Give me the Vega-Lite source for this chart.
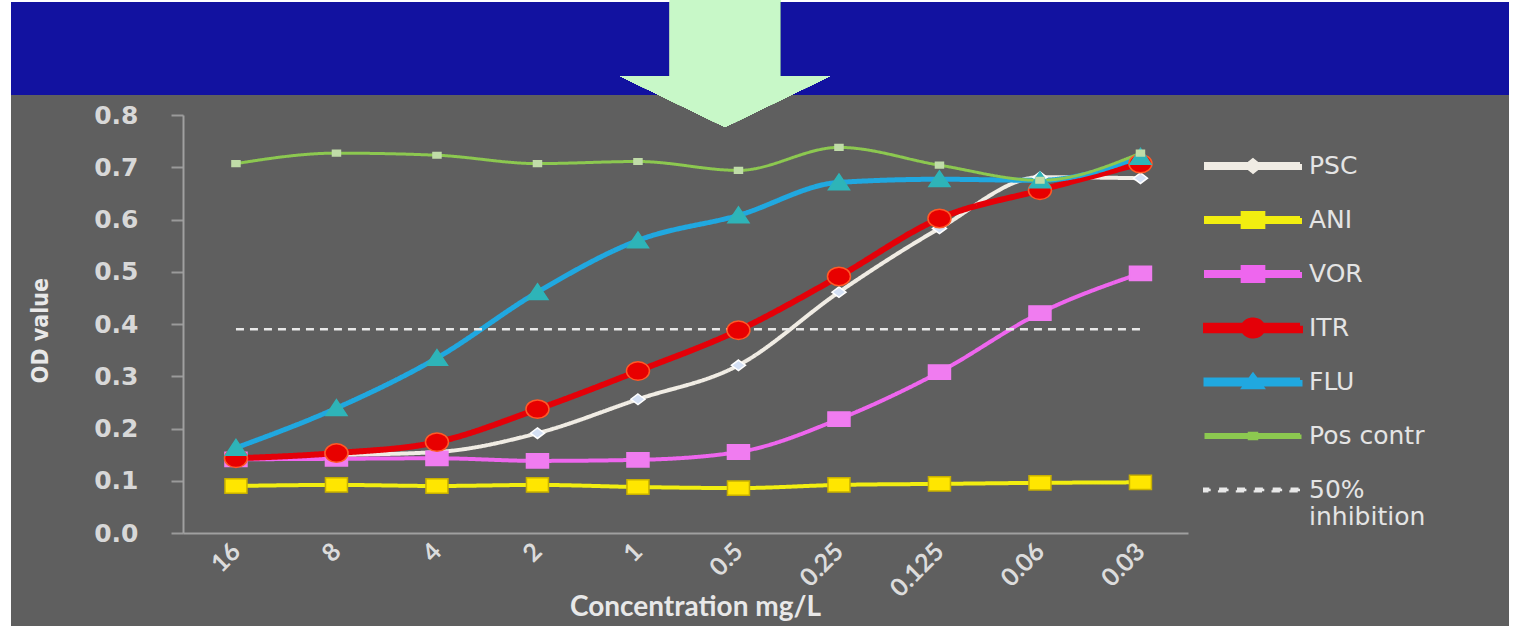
{
  "$schema": "https://vega.github.io/schema/vega-lite/v6.json",
  "width": 1005,
  "height": 418,
  "autosize": {"type": "none"},
  "padding": {"left": 183, "top": 115, "right": 336, "bottom": 93},
  "background": "white",
  "config": {"view": {"stroke": null}},
  "data": {
    "values": [
      {"conc": "16", "series": "PSC", "od": 0.143}, {"conc": "8", "series": "PSC", "od": 0.149}, {"conc": "4", "series": "PSC", "od": 0.155}, {"conc": "2", "series": "PSC", "od": 0.191}, {"conc": "1", "series": "PSC", "od": 0.256}, {"conc": "0.5", "series": "PSC", "od": 0.321}, {"conc": "0.25", "series": "PSC", "od": 0.461}, {"conc": "0.125", "series": "PSC", "od": 0.583}, {"conc": "0.06", "series": "PSC", "od": 0.681}, {"conc": "0.03", "series": "PSC", "od": 0.679},
      {"conc": "16", "series": "ANI", "od": 0.090}, {"conc": "8", "series": "ANI", "od": 0.092}, {"conc": "4", "series": "ANI", "od": 0.090}, {"conc": "2", "series": "ANI", "od": 0.092}, {"conc": "1", "series": "ANI", "od": 0.088}, {"conc": "0.5", "series": "ANI", "od": 0.086}, {"conc": "0.25", "series": "ANI", "od": 0.092}, {"conc": "0.125", "series": "ANI", "od": 0.094}, {"conc": "0.06", "series": "ANI", "od": 0.096}, {"conc": "0.03", "series": "ANI", "od": 0.097},
      {"conc": "16", "series": "VOR", "od": 0.141}, {"conc": "8", "series": "VOR", "od": 0.142}, {"conc": "4", "series": "VOR", "od": 0.143}, {"conc": "2", "series": "VOR", "od": 0.138}, {"conc": "1", "series": "VOR", "od": 0.140}, {"conc": "0.5", "series": "VOR", "od": 0.155}, {"conc": "0.25", "series": "VOR", "od": 0.218}, {"conc": "0.125", "series": "VOR", "od": 0.308}, {"conc": "0.06", "series": "VOR", "od": 0.421}, {"conc": "0.03", "series": "VOR", "od": 0.497},
      {"conc": "16", "series": "ITR", "od": 0.143}, {"conc": "8", "series": "ITR", "od": 0.153}, {"conc": "4", "series": "ITR", "od": 0.174}, {"conc": "2", "series": "ITR", "od": 0.237}, {"conc": "1", "series": "ITR", "od": 0.310}, {"conc": "0.5", "series": "ITR", "od": 0.388}, {"conc": "0.25", "series": "ITR", "od": 0.491}, {"conc": "0.125", "series": "ITR", "od": 0.602}, {"conc": "0.06", "series": "ITR", "od": 0.656}, {"conc": "0.03", "series": "ITR", "od": 0.707},
      {"conc": "16", "series": "FLU", "od": 0.163}, {"conc": "8", "series": "FLU", "od": 0.239}, {"conc": "4", "series": "FLU", "od": 0.335}, {"conc": "2", "series": "FLU", "od": 0.461}, {"conc": "1", "series": "FLU", "od": 0.560}, {"conc": "0.5", "series": "FLU", "od": 0.608}, {"conc": "0.25", "series": "FLU", "od": 0.671}, {"conc": "0.125", "series": "FLU", "od": 0.677}, {"conc": "0.06", "series": "FLU", "od": 0.675}, {"conc": "0.03", "series": "FLU", "od": 0.720},
      {"conc": "16", "series": "Pos contr", "od": 0.707}, {"conc": "8", "series": "Pos contr", "od": 0.727}, {"conc": "4", "series": "Pos contr", "od": 0.723}, {"conc": "2", "series": "Pos contr", "od": 0.707}, {"conc": "1", "series": "Pos contr", "od": 0.711}, {"conc": "0.5", "series": "Pos contr", "od": 0.694}, {"conc": "0.25", "series": "Pos contr", "od": 0.738}, {"conc": "0.125", "series": "Pos contr", "od": 0.704}, {"conc": "0.06", "series": "Pos contr", "od": 0.675}, {"conc": "0.03", "series": "Pos contr", "od": 0.727},
      {"conc": "16", "series": "50% inhibition", "od": 0.39}, {"conc": "8", "series": "50% inhibition", "od": 0.39}, {"conc": "4", "series": "50% inhibition", "od": 0.39}, {"conc": "2", "series": "50% inhibition", "od": 0.39}, {"conc": "1", "series": "50% inhibition", "od": 0.39}, {"conc": "0.5", "series": "50% inhibition", "od": 0.39}, {"conc": "0.25", "series": "50% inhibition", "od": 0.39}, {"conc": "0.125", "series": "50% inhibition", "od": 0.39}, {"conc": "0.06", "series": "50% inhibition", "od": 0.39}, {"conc": "0.03", "series": "50% inhibition", "od": 0.39}
    ]
  },
  "resolve": {"scale": {"x": "independent"}},
  "layer": [
    {
      "mark": {"type": "rect", "color": "#5f5f5f"},
      "encoding": {
        "x": {"datum": -0.1711, "type": "quantitative", "scale": {"domain": [0, 1]}, "axis": null},
        "x2": {"datum": 1.3194},
        "y": {"datum": -0.178, "type": "quantitative", "scale": {"domain": [0, 0.8], "nice": false}},
        "y2": {"datum": 0.8383}
      }
    },
    {
      "mark": {"type": "rect", "color": "#1212a0"},
      "encoding": {
        "x": {"datum": -0.1711, "type": "quantitative", "scale": {"domain": [0, 1]}, "axis": null},
        "x2": {"datum": 1.3194},
        "y": {"datum": 0.8383, "type": "quantitative", "scale": {"domain": [0, 0.8], "nice": false}},
        "y2": {"datum": 1.0163}
      }
    },
    {
      "mark": {"type": "point", "filled": true, "opacity": 1, "fill": "#c8f8c8", "strokeWidth": 0, "size": 44100,
               "shape": "M-0.524,-0.605L0.524,-0.605L0.524,0.119L1,0.119L0,0.605L-1,0.119L-0.524,0.119Z"},
      "encoding": {
        "x": {"datum": 0.5393, "type": "quantitative", "scale": {"domain": [0, 1]}, "axis": null},
        "y": {"datum": 0.8986, "type": "quantitative", "scale": {"domain": [0, 0.8], "nice": false}}
      }
    },
    {
      "mark": {"type": "line", "interpolate": "monotone"},
      "encoding": {
        "x": {
          "field": "conc", "type": "ordinal",
          "scale": {"type": "point", "domain": ["16", "8", "4", "2", "1", "0.5", "0.25", "0.125", "0.06", "0.03"], "padding": 0.5, "align": 0.527},
          "axis": {
            "title": "Concentration mg/L", "labelAngle": -45, "labelAlign": "right", "labelBaseline": "middle",
            "labelFont": "Lato", "labelFontWeight": "bold", "labelFontSize": 25, "labelColor": "#dcdcdc", "labelPadding": 14,
            "ticks": false, "domainColor": "#a0a0a0", "domainWidth": 2, "grid": false,
            "titleFont": "Lato", "titleFontWeight": "bold", "titleFontSize": 28, "titleColor": "#e8e8e8",
            "titleX": 512, "titleY": 74, "titleBaseline": "middle", "titleAlign": "center", "zindex": 1
          }
        },
        "y": {
          "field": "od", "type": "quantitative", "scale": {"domain": [0, 0.8], "nice": false},
          "axis": {
            "title": "OD value", "values": [0, 0.1, 0.2, 0.3, 0.4, 0.5, 0.6, 0.7, 0.8], "format": ".1f",
            "labelFont": "DejaVu Sans", "labelFontWeight": "bold", "labelFontSize": 25, "labelColor": "#d8d8d8", "labelPadding": 33,
            "tickSize": 12, "tickColor": "#9a9a9a", "tickWidth": 2, "domainColor": "#a0a0a0", "domainWidth": 2, "grid": false,
            "titleFont": "DejaVu Sans Condensed, DejaVu Sans, sans-serif", "titleFontWeight": "bold", "titleFontSize": 23, "titleColor": "#e8e8e8",
            "titleAngle": 270, "titleX": -143, "titleY": 215, "titleBaseline": "middle", "titleAlign": "center", "zindex": 1
          }
        },
        "color": {
          "field": "series", "type": "nominal",
          "scale": {"domain": ["PSC", "ANI", "VOR", "ITR", "FLU", "Pos contr", "50% inhibition"],
                    "range": ["#f0ece4", "#f2ee10", "#ee66ee", "#e40008", "#20a8e0", "#8cc850", "#e8e8e8"]},
          "legend": {
            "title": null, "orient": "none", "legendX": 1020, "legendY": 31, "zindex": 1,
            "symbolSize": 8836, "symbolStrokeWidth": 0, "clipHeight": 40, "rowPadding": 14, "labelOffset": 6,
            "labelFont": "DejaVu Sans", "labelFontSize": 25, "labelColor": "#e4e4e4", "labelLimit": 400,
            "labelExpr": "datum.label == '50% inhibition' ? ['50%', 'inhibition'] : datum.label",
            "encode": {
              "symbols": {
                "update": {
                  "shape": {"signal": "datum.value == 'PSC' ? 'M-1,-0.04H1V0.04H-1Z M0,-0.12L0.15,0L0,0.12L-0.15,0Z' : (datum.value == 'ANI' || datum.value == 'VOR') ? 'M-1,-0.04H1V0.04H-1Z M-0.22,-0.15H0.22V0.15H-0.22Z' : datum.value == 'ITR' ? 'M-1,-0.05H1V0.05H-1Z M-0.2,0A0.2,0.16,0,1,1,0.2,0A0.2,0.16,0,1,1,-0.2,0Z' : datum.value == 'FLU' ? 'M-1,-0.04H1V0.04H-1Z M0,-0.13L0.17,0.1L-0.17,0.1Z' : datum.value == 'Pos contr' ? 'M-1,-0.03H1V0.03H-1Z M-0.08,-0.06H0.08V0.06H-0.08Z' : 'M-1.1,-0.025H-0.9V0.025H-1.1Z M-0.72,-0.025H-0.52V0.025H-0.72Z M-0.34,-0.025H-0.14V0.025H-0.34Z M0.04,-0.025H0.24V0.025H0.04Z M0.42,-0.025H0.62V0.025H0.42Z M0.8,-0.025H1V0.025H0.8Z'"},
                  "fill": {"scale": "color", "field": "value"},
                  "stroke": {"value": "transparent"},
                  "strokeWidth": {"value": 0},
                  "size": {"value": 8836},
                  "opacity": {"value": 1}
                }
              }
            }
          }
        },
        "strokeWidth": {
          "field": "series", "type": "nominal", "legend": null,
          "scale": {"type": "ordinal", "domain": ["PSC", "ANI", "VOR", "ITR", "FLU", "Pos contr", "50% inhibition"], "range": [4, 4, 4, 6, 5, 3, 2.5]}
        },
        "strokeDash": {
          "field": "series", "type": "nominal", "legend": null,
          "scale": {"domain": ["PSC", "ANI", "VOR", "ITR", "FLU", "Pos contr", "50% inhibition"], "range": [[1, 0], [1, 0], [1, 0], [1, 0], [1, 0], [1, 0], [8, 6]]}
        }
      }
    },
    {
      "transform": [{"filter": "datum.series != '50% inhibition'"}],
      "mark": {"type": "point", "filled": true, "opacity": 1, "strokeWidth": 1.5},
      "encoding": {
        "x": {
          "field": "conc", "type": "ordinal",
          "scale": {"type": "point", "domain": ["16", "8", "4", "2", "1", "0.5", "0.25", "0.125", "0.06", "0.03"], "padding": 0.5, "align": 0.527},
          "axis": null
        },
        "y": {"field": "od", "type": "quantitative", "scale": {"domain": [0, 0.8], "nice": false}},
        "shape": {
          "field": "series", "type": "nominal", "legend": null,
          "scale": {"domain": ["PSC", "ANI", "VOR", "ITR", "FLU", "Pos contr"],
                    "range": ["M0,-0.75L1,0L0,0.75L-1,0Z", "M-1,-0.65H1V0.65H-1Z", "M-1,-0.65H1V0.65H-1Z", "M-1,0A1,0.8,0,1,1,1,0A1,0.8,0,1,1,-1,0Z", "M0,-0.8L1,0.7L-1,0.7Z", "M-1,-0.7H1V0.7H-1Z"]}
        },
        "size": {
          "field": "series", "type": "nominal", "legend": null,
          "scale": {"type": "ordinal", "domain": ["PSC", "ANI", "VOR", "ITR", "FLU", "Pos contr"], "range": [196, 484, 484, 529, 441, 64]}
        },
        "fill": {
          "field": "series", "type": "nominal", "legend": null,
          "scale": {"domain": ["PSC", "ANI", "VOR", "ITR", "FLU", "Pos contr"], "range": ["#d4e0f4", "#ffe600", "#f07cf0", "#e80000", "#2eb4b8", "#c0dca8"]}
        },
        "stroke": {
          "field": "series", "type": "nominal", "legend": null,
          "scale": {"domain": ["PSC", "ANI", "VOR", "ITR", "FLU", "Pos contr"], "range": ["#ffffff", "#c8b000", "#f07cf0", "#ff5a28", "#2eb4b8", "#c0dca8"]}
        }
      }
    }
  ]
}
